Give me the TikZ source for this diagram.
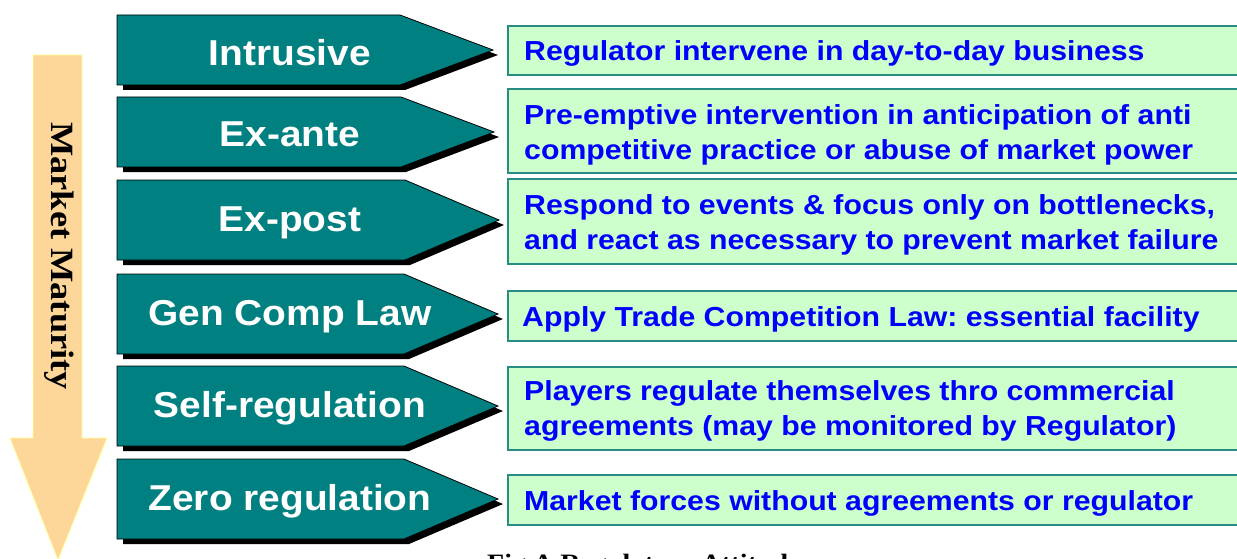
\documentclass[tikz,border=0pt]{standalone}
\usepackage{fontspec}
\setmainfont{Liberation Sans}
\newfontfamily\labelfont[FakeStretch=1.08]{Liberation Sans}
\newfontfamily\descfont[FakeStretch=1.1]{Liberation Sans}
\newfontfamily\serifbold[FakeStretch=1.12]{Liberation Serif}
\definecolor{tealfill}{RGB}{0,128,128}
\definecolor{descfill}{RGB}{204,255,204}
\definecolor{descedge}{RGB}{40,140,130}
\definecolor{desctext}{RGB}{0,0,255}
\definecolor{maturityfill}{RGB}{253,214,153}
\definecolor{maturityedge}{RGB}{255,255,150}
\tikzset{
  stepshape/.style={fill=tealfill, draw=black, line width=0.8pt, line join=miter},
  stepshadow/.style={fill=black},
  steplabel/.style={text=white, font=\labelfont\bfseries\fontsize{36}{40}\selectfont,
                    inner sep=0pt, yshift=-2.5pt},
  descbox/.style={fill=descfill, draw=descedge, line width=1.4pt},
  desctxt/.style={text=desctext, font=\descfont\bfseries\fontsize{27.5}{35}\selectfont,
                  align=left, anchor=west, inner sep=0pt, yshift=-3pt},
}
\begin{document}
\frenchspacing
\begin{tikzpicture}[x=1pt,y=-1pt]
  \useasboundingbox (0,0) rectangle (1237,559);
  \clip (0,0) rectangle (1237,559);

  % maturity arrow on the left
  \draw[fill=maturityfill, draw=maturityedge, line width=0.8pt]
    (33,55) -- (82,55) -- (82,438) -- (107,438) -- (58,560) -- (10,438) -- (33,438) -- cycle;
  \node[rotate=-90, font=\serifbold\bfseries\fontsize{32.5}{36}\selectfont, text=black]
    (maturity) at (59,256) {Market Maturity};

  % regulatory stages: number, top, bottom, end of body, tip, label
  \foreach \n/\t/\b/\e/\p/\lab in {
      1/15/85/400/493/Intrusive,
      2/97/167/401/494/Ex-ante,
      3/180/260/405/499/Ex-post,
      4/274/354/404/498/Gen Comp Law,
      5/366/446/404/498/Self-regulation,
      6/459/539/404/498/Zero regulation}{
    \pgfmathsetmacro{\m}{(\t+\b)/2}
    \fill[stepshadow] (123,\t+5) -- (\e+5,\t+5) -- (\p+5,\m+5) -- (\e+5,\b+5) -- (123,\b+5) -- cycle;
    \draw[stepshape] (117,\t) -- (\e,\t) -- (\p,\m) -- (\e,\b) -- (117,\b) -- cycle;
    \node[steplabel] (stage\n) at (290,\m) {\lab};
  }

  % description boxes
  \foreach \n/\t/\b in {1/26/75, 2/89/173, 3/179/264, 4/291/341, 5/367/450, 6/475/525}{
    \draw[descbox] (508,\t) rectangle (1250,\b);
  }
  \node[desctxt] (desc1) at (524,50.5) {Regulator intervene in day-to-day business};
  \node[desctxt] (desc2) at (524,132) {Pre-emptive intervention in anticipation of anti\\competitive practice or abuse of market power};
  \node[desctxt] (desc3) at (524,222) {Respond to events \& focus only on bottlenecks,\\and react as necessary to prevent market failure};
  \node[desctxt] (desc4) at (522,316) {Apply Trade Competition Law: essential facility};
  \node[desctxt] (desc5) at (524,408) {Players regulate themselves thro commercial\\agreements (may be monitored by Regulator)};
  \node[desctxt] (desc6) at (524,500) {Market forces without agreements or regulator};

  % caption, running past the lower page edge
  \node[anchor=base west, inner sep=0pt, font=\serifbold\bfseries\fontsize{25}{28}\selectfont]
    (caption) at (487,571) {Fig A Regulatory Attitude};
\end{tikzpicture}
\end{document}
